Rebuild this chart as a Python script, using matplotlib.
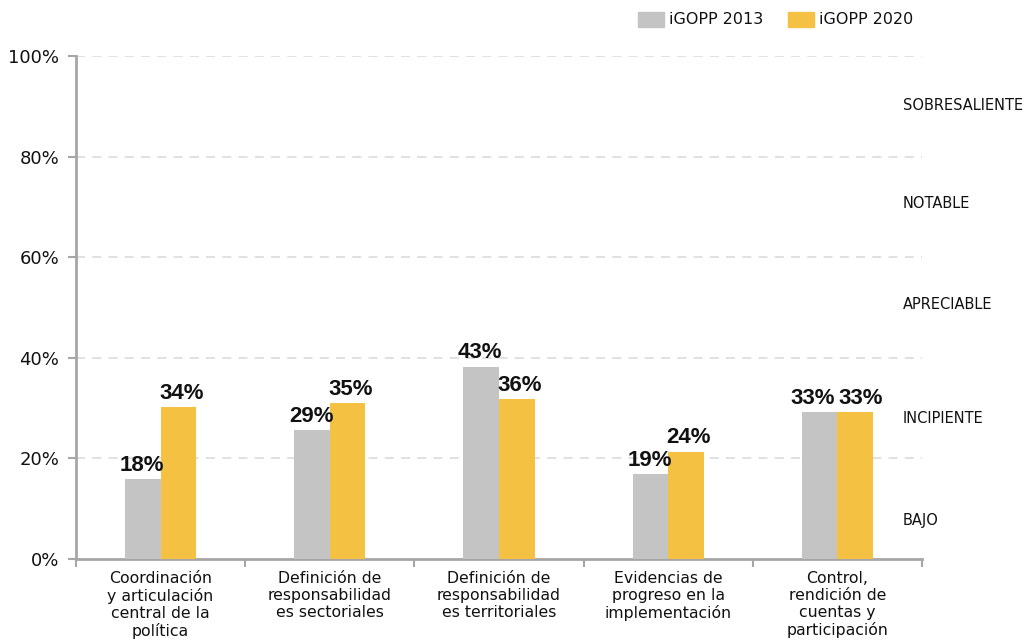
import matplotlib
matplotlib.use("Agg")
import matplotlib.pyplot as plt
import numpy as np
from matplotlib.patches import Rectangle

categories = ["Coordinación\ny articulación\ncentral de la\npolítica",
              "Definición de\nresponsabilidad\nes sectoriales",
              "Definición de\nresponsabilidad\nes territoriales",
              "Evidencias de\nprogreso en la\nimplementación",
              "Control,\nrendición de\ncuentas y\nparticipación"]
series_names = ["iGOPP 2013", "iGOPP 2020"]
# bar heights as drawn in the reference (%)
heights_2013 = [15.9, 25.6, 38.2, 16.9, 29.2]
heights_2020 = [30.2, 31.0, 31.8, 21.3, 29.2]
# printed labels
labels_2013 = ["18%", "29%", "43%", "19%", "33%"]
labels_2020 = ["34%", "35%", "36%", "24%", "33%"]
level_names = ["SOBRESALIENTE", "NOTABLE", "APRECIABLE", "INCIPIENTE", "BAJO"]
level_pos = [90.1, 70.6, 50.5, 28.0, 7.6]
yticks = [0, 20, 40, 60, 80, 100]

GRAY = "#C4C4C4"
YELLOW = "#F4C142"
AXC = "#A6A6A6"
plt.rcParams["font.family"] = ["DejaVu Sans"]
VFONT = ["Liberation Sans", "DejaVu Sans"]

fig = plt.figure(figsize=(10.26, 6.41), dpi=100)
ax = fig.add_axes([76/1026, 1-559/641, (922-76)/1026, (559-56)/641])

x = np.arange(len(categories))
w = 0.21
ax.bar(x - w/2, heights_2013, w, color=GRAY, zorder=3)
ax.bar(x + w/2, heights_2020, w, color=YELLOW, zorder=3)

# label nudges (pixels) so neighbouring labels don't collide
dx13 = [-1, -1, -1, -1, -7]
dx20 = [3, 3, 3, 3, 6]
for i, (xi, h, l) in enumerate(zip(x, heights_2013, labels_2013)):
    ax.annotate(l, (xi - w/2, h), xytext=(dx13[i] * 0.72, 2.5), textcoords="offset points",
                ha="center", va="bottom", fontsize=16, fontweight="bold",
                color="#111111", zorder=4, family=VFONT)
for i, (xi, h, l) in enumerate(zip(x, heights_2020, labels_2020)):
    ax.annotate(l, (xi + w/2, h), xytext=(dx20[i] * 0.72, 2.5), textcoords="offset points",
                ha="center", va="bottom", fontsize=16, fontweight="bold",
                color="#111111", zorder=4, family=VFONT)

ax.set_xlim(-0.5, len(categories) - 0.5)
ax.set_ylim(0, 100)
for yv in yticks[1:]:
    ax.axhline(yv, color="#DEDEDE", lw=1.3, ls=(0, (5, 4)), zorder=1)

ax.set_yticks(yticks)
ax.set_yticklabels([f"{v}%" for v in yticks], fontsize=13)
ax.tick_params(axis="y", length=6, width=1.5, color=AXC, pad=6, labelcolor="#111111")

ax.set_xticks(np.arange(len(categories) + 1) - 0.5)
ax.set_xticklabels([])
ax.tick_params(axis="x", length=6, width=1.5, color=AXC)
for xi, c in zip(x, categories):
    ax.text(xi, -2.3, c, ha="center", va="top", fontsize=11.3, color="#111111",
            linespacing=1.17, transform=ax.transData)

for s in ["top", "right"]:
    ax.spines[s].set_visible(False)
for s in ["left", "bottom"]:
    ax.spines[s].set_color(AXC)
    ax.spines[s].set_linewidth(2)

for name, yp in zip(level_names, level_pos):
    ax.text(1.0 + (903-922)/846, yp, name, transform=ax.get_yaxis_transform(),
            ha="left", va="center", fontsize=10.5, color="#111111")

# legend
for px, col, name in [(638, GRAY, series_names[0]), (788, YELLOW, series_names[1])]:
    fig.patches.append(Rectangle((px/1026, 1-27/641), 26/1026, 15/641,
                                 transform=fig.transFigure, color=col))
    fig.text((px + 31)/1026, 1-19.5/641, name, ha="left", va="center",
             fontsize=11.5, color="#111111")

fig.savefig("out.png", dpi=100)
